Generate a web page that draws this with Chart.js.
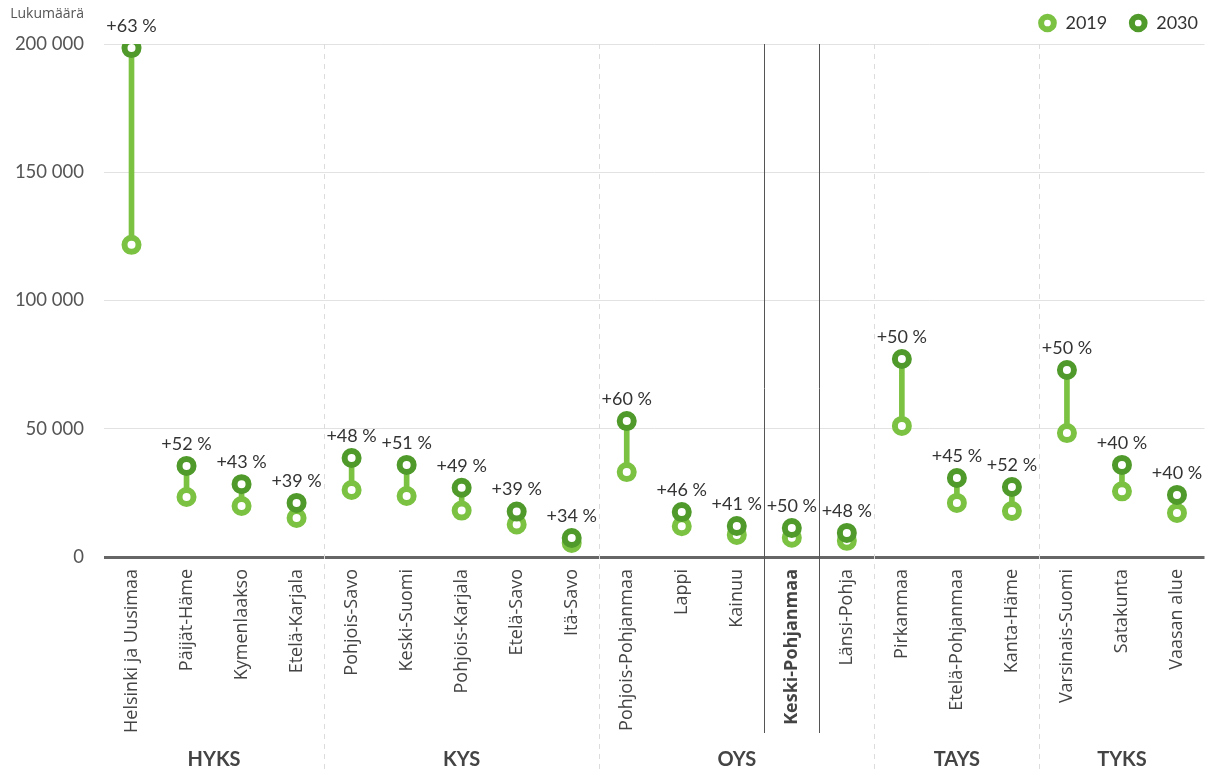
<html>
<head>
<title>Lukumäärä 2019 / 2030</title>
<script src="https://cdn.jsdelivr.net/npm/chart.js@4.4.1/dist/chart.umd.min.js"></script>
<style>
  body { margin: 0; background: #fff; }
  #wrap { width: 1210px; height: 771px; }
</style>
</head>
<body>
<div id="wrap"><canvas id="myChart" width="1210" height="771"></canvas></div>
<script>
var regions = [ "Helsinki ja Uusimaa", "Päijät-Häme", "Kymenlaakso", "Etelä-Karjala",
  "Pohjois-Savo", "Keski-Suomi", "Pohjois-Karjala", "Etelä-Savo", "Itä-Savo",
  "Pohjois-Pohjanmaa", "Lappi", "Kainuu", "Keski-Pohjanmaa", "Länsi-Pohja",
  "Pirkanmaa", "Etelä-Pohjanmaa", "Kanta-Häme",
  "Varsinais-Suomi", "Satakunta", "Vaasan alue" ];
var values2019 = [ 121700, 23400, 19900, 15200, 26100, 23800, 18100, 12700, 5500,
  33100, 12000, 8600, 7500, 6300, 51100, 21100, 17900, 48300, 25600, 17200 ];
var values2030 = [ 198400, 35500, 28400, 21100, 38600, 35900, 27000, 17700, 7400,
  53000, 17500, 12100, 11300, 9400, 77200, 30800, 27300, 72900, 35900, 24200 ];
var changeLabels = [ "+63 %", "+52 %", "+43 %", "+39 %", "+48 %", "+51 %", "+49 %", "+39 %", "+34 %",
  "+60 %", "+46 %", "+41 %", "+50 %", "+48 %", "+50 %", "+45 %", "+52 %", "+50 %", "+40 %", "+40 %" ];
// erva-alueet: nimi, ensimmäinen ja viimeinen indeksi
var groupNames = [ "HYKS", "KYS", "OYS", "TAYS", "TYKS" ];
var groupStart = [ 0, 4, 9, 14, 17 ];
var groupEnd = [ 3, 8, 13, 16, 19 ];
var highlightIndex = 12;
var yTicks = [ 0, 50000, 100000, 150000, 200000 ];

var light = "#7cc242";
var dark = "#4f9a2b";
var fontFamily = "Lato, 'Noto Sans', sans-serif";
var labelFamily = "'Open Sans', 'Noto Sans', sans-serif";
var legendPad = 22;

function fmt( v ){
  return String( v ).replace( /\B(?=(\d{3})+(?!\d))/g, " " );
}

var extras = {
  id: 'extras',
  afterLayout: function( chart ){
    //. selite oikeaan yläkulmaan
    var lg = chart.legend;
    if( lg ){
      var w = lg.right - lg.left, h = lg.bottom - lg.top;
      lg.right = 1198 + legendPad;
      lg.left = lg.right - w;
      lg.top = 23 - legendPad - 9;
      lg.bottom = lg.top + h;
    }
  },
  beforeDatasetsDraw: function( chart ){
    var ctx = chart.ctx, x = chart.scales.x, area = chart.chartArea;
    ctx.save();
    //. ryhmien väliset katkoviivat
    ctx.strokeStyle = "#dcdcdc";
    ctx.lineWidth = 1;
    ctx.setLineDash( [ 5, 5 ] );
    for( var g = 1; g < groupStart.length; g ++ ){
      var px = ( x.getPixelForValue( groupStart[g] ) + x.getPixelForValue( groupStart[g] - 1 ) ) / 2;
      ctx.beginPath();
      ctx.moveTo( Math.round( px ) + 0.5, area.top );
      ctx.lineTo( Math.round( px ) + 0.5, chart.height );
      ctx.stroke();
    }
    //. korostetun alueen reunat
    ctx.setLineDash( [] );
    ctx.strokeStyle = "#555";
    var half = ( x.getPixelForValue( 1 ) - x.getPixelForValue( 0 ) ) / 2;
    var cx = x.getPixelForValue( highlightIndex );
    [ cx - half, cx + half ].forEach( function( px ){
      ctx.beginPath();
      ctx.moveTo( Math.round( px ) + 0.5, area.top );
      ctx.lineTo( Math.round( px ) + 0.5, 733 );
      ctx.stroke();
    });
    ctx.restore();
  },
  afterDraw: function( chart ){
    var ctx = chart.ctx, x = chart.scales.x, y = chart.scales.y;
    ctx.save();
    //. muutosprosentit
    ctx.fillStyle = "#333";
    ctx.font = "18px " + fontFamily;
    ctx.textAlign = "center";
    ctx.textBaseline = "bottom";
    for( var i = 0; i < regions.length; i ++ ){
      ctx.fillText( changeLabels[i], x.getPixelForValue( i ), y.getPixelForValue( values2030[i] ) - 13 );
    }
    //. ryhmien nimet
    ctx.fillStyle = "#444";
    ctx.font = "bold 20px " + fontFamily;
    ctx.textBaseline = "middle";
    for( var g = 0; g < groupNames.length; g ++ ){
      var px = ( x.getPixelForValue( groupStart[g] ) + x.getPixelForValue( groupEnd[g] ) ) / 2;
      ctx.fillText( groupNames[g], px, 760 );
    }
    //. akselin otsikko
    ctx.fillStyle = "#555";
    ctx.font = "14px " + labelFamily;
    ctx.textAlign = "right";
    ctx.fillText( "Lukumäärä", 84, 14 );
    ctx.restore();
  }
};

var ranges = [];
for( var i = 0; i < regions.length; i ++ ){
  ranges.push( [ values2019[i], values2030[i] ] );
}

var ctx = document.getElementById( 'myChart' ).getContext( '2d' );
var myChart = new Chart( ctx, {
  type: 'bar',
  data: {
    labels: regions,
    datasets: [
      {
        type: 'line', label: "2030", data: values2030, order: 1,
        showLine: false, borderColor: dark, backgroundColor: "#fff", borderWidth: 6,
        pointRadius: 7, pointHoverRadius: 7, pointBorderWidth: 6, pointHoverBorderWidth: 6,
        pointBackgroundColor: "#fff", pointBorderColor: dark
      },
      {
        type: 'line', label: "2019", data: values2019, order: 2,
        showLine: false, borderColor: light, backgroundColor: "#fff", borderWidth: 6,
        pointRadius: 7, pointHoverRadius: 7, pointBorderWidth: 6, pointHoverBorderWidth: 6,
        pointBackgroundColor: "#fff", pointBorderColor: light
      },
      {
        type: 'bar', label: "muutos", data: ranges, order: 3,
        backgroundColor: light, barThickness: 5, borderSkipped: false
      }
    ]
  },
  options: {
    responsive: false,
    animation: false,
    layout: { autoPadding: false, padding: { top: -6, right: 5.5, left: 0, bottom: 0 } },
    plugins: {
      tooltip: { enabled: false },
      legend: {
        position: 'top',
        align: 'end',
        reverse: true,
        labels: {
          usePointStyle: true,
          pointStyle: 'circle',
          boxHeight: 9,
          padding: legendPad,
          color: "#333",
          font: { family: fontFamily, size: 18 },
          filter: function( item ){ return item.text !== "muutos"; }
        }
      }
    },
    scales: {
      x: {
        offset: true,
        grid: { display: false, drawTicks: false },
        border: { display: false },
        ticks: {
          minRotation: 90, maxRotation: 90, autoSkip: false, padding: 12,
          color: "#444",
          font: function( c ){
            return { family: labelFamily, size: 18, weight: c.index === highlightIndex ? 'bold' : 'normal' };
          }
        },
        afterFit: function( scale ){
          scale.height = 214;
          scale.paddingLeft = 0;
          scale.paddingRight = 0;
        }
      },
      y: {
        min: 0, max: 200000,
        afterBuildTicks: function( scale ){
          scale.ticks = yTicks.map( function( v ){ return { value: v }; } );
        },
        grid: {
          drawTicks: false,
          color: function( c ){ return c.tick && c.tick.value === 0 ? "#666" : "#e2e2e2"; },
          lineWidth: function( c ){ return c.tick && c.tick.value === 0 ? 3 : 1; }
        },
        border: { display: false },
        ticks: {
          padding: 20, color: "#555",
          font: { family: fontFamily, size: 18.5 },
          callback: function( v ){ return fmt( v ); }
        },
        afterFit: function( scale ){ scale.width = 104; }
      }
    }
  },
  plugins: [ extras ]
});
</script>
</body>
</html>
